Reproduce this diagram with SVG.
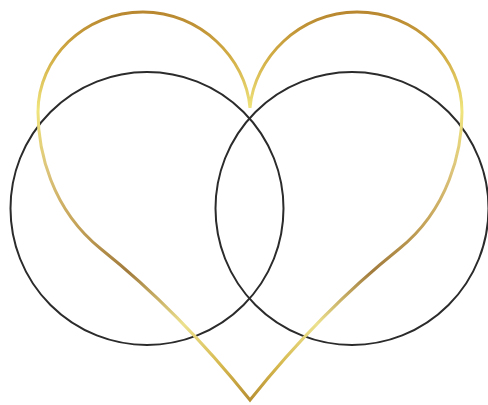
<svg xmlns="http://www.w3.org/2000/svg" width="488" height="405" viewBox="0 0 488 405">
  <defs>
    <linearGradient id="gold" gradientUnits="userSpaceOnUse" x1="0" y1="0" x2="0" y2="405">
      <stop offset="0.03" stop-color="#b8872f"/>
      <stop offset="0.14" stop-color="#d2ad45"/>
      <stop offset="0.27" stop-color="#f0e47c"/>
      <stop offset="0.42" stop-color="#dcc47a"/>
      <stop offset="0.55" stop-color="#c6a55a"/>
      <stop offset="0.67" stop-color="#a17b3c"/>
      <stop offset="0.8" stop-color="#ece18e"/>
      <stop offset="0.9" stop-color="#d6b94f"/>
      <stop offset="1" stop-color="#b38a2e"/>
    </linearGradient>
  </defs>
  <style>
    .ring { fill: none; stroke: #2b2b2b; stroke-width: 2; }
    .heart { fill: none; stroke: url(#gold); stroke-width: 3; stroke-linejoin: miter; stroke-miterlimit: 10; }
  </style>
  <rect width="488" height="405" fill="#ffffff"/>
  <g id="circle-left">
    <circle class="ring" cx="147" cy="208.5" r="136.5"/>
  </g>
  <g id="circle-right">
    <circle class="ring" cx="352" cy="208.5" r="136.5"/>
  </g>
  <g id="heart">
    <path class="heart" d="M250 108 C246 58 200 12 143 12 C84 12 38 58 38 112 C38 150 51 209 101 249 C151 289 200 337.5 250 400 C300 337.5 349 289 399 249 C449 209 462 150 462 112 C462 58 416 12 357 12 C300 12 254 58 250 108 Z"/>
  </g>
</svg>
